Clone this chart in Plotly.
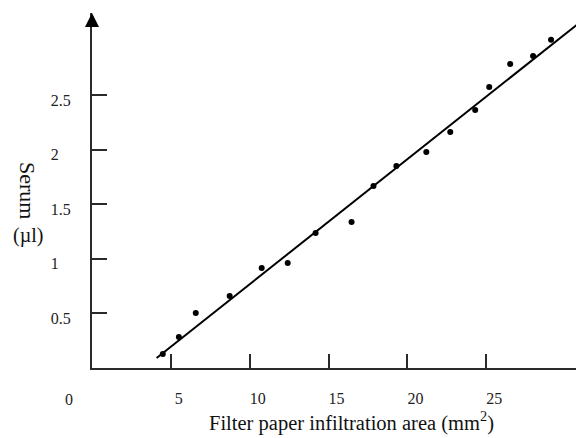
import plotly.graph_objects as go

# Data
area_mm2 = [4.49, 5.51, 6.58, 8.73, 10.76, 12.41, 14.18, 16.46, 17.85,
            19.30, 21.20, 22.72, 24.30, 25.19, 26.52, 27.97, 29.11]
serum_ul = [0.128, 0.284, 0.504, 0.659, 0.916, 0.962, 1.236, 1.337, 1.667,
            1.850, 1.978, 2.161, 2.363, 2.573, 2.784, 2.857, 3.004]

fit_slope = 0.1145
fit_intercept = -0.378
fit_x = [4.1, 31.3]
fit_y = [fit_intercept + fit_slope * v for v in fit_x]

x_tick_vals = [5, 10, 15, 20, 25]
x_tick_text = ["5", "10", "15", "20", "25"]
y_tick_vals = [0.5, 1, 1.5, 2, 2.5]
y_tick_text = ["0.5", "1\u00a0\u00a0\u00a0", "1.5", "2\u00a0\u00a0\u00a0", "2.5"]

FONT = "Liberation Serif, Times New Roman, serif"
AX = "#2a2a2a"

# the page body adds an 8 px offset; the figure is sized to compensate
fig = go.Figure()
fig.add_trace(go.Scatter(x=fit_x, y=fit_y, mode="lines",
                         line=dict(color="black", width=2), showlegend=False,
                         cliponaxis=True))
fig.add_trace(go.Scatter(x=area_mm2, y=serum_ul, mode="markers",
                         marker=dict(color="black", size=6), showlegend=False))

fig.update_layout(
    width=576, height=430,
    margin=dict(l=84, r=0, t=5, b=70),
    paper_bgcolor="white", plot_bgcolor="white",
    font=dict(family=FONT, size=16, color="#222"),
    xaxis=dict(range=[0, 31.2], showgrid=False, zeroline=False, automargin=False,
               showline=True, linecolor=AX, linewidth=2,
               ticks="inside", ticklen=14, tickwidth=1.5, tickcolor=AX,
               tickvals=x_tick_vals, ticktext=x_tick_text,
               ticklabelstandoff=15, ticklabelshift=8,
               tickfont=dict(family=FONT, size=16, color="#222")),
    yaxis=dict(range=[0, 3.25], showgrid=False, zeroline=False, automargin=False,
               showline=True, linecolor=AX, linewidth=2,
               ticks="inside", ticklen=15, tickwidth=1.5, tickcolor=AX,
               tickvals=y_tick_vals, ticktext=y_tick_text,
               ticklabelstandoff=16, ticklabelshift=5,
               tickfont=dict(family=FONT, size=16, color="#222")),
)

# arrow head on the y axis
fig.add_annotation(x=0, y=3.25, xref="x", yref="y", ax=0, ay=14,
                   showarrow=True, arrowhead=2, arrowsize=1.4, arrowwidth=2,
                   arrowcolor="black", text="")
# origin label
fig.add_annotation(x=0, y=0, xref="paper", yref="paper", text="0",
                   xanchor="center", yanchor="middle",
                   showarrow=False, xshift=-23, yshift=-31,
                   font=dict(family=FONT, size=16, color="#222"))
# axis titles
fig.add_annotation(x=(351 - 92) / 492, y=-(421 - 368) / 355, xref="paper", yref="paper",
                   xanchor="center", yanchor="middle",
                   text="Filter paper infiltration area (mm<sup>2</sup>)",
                   showarrow=False, font=dict(family=FONT, size=20.5, color="#111"))
fig.add_annotation(x=-(92 - 28) / 492, y=(368 - 190) / 355, xref="paper", yref="paper",
                   xanchor="center", yanchor="middle",
                   text="Serum", textangle=90, showarrow=False,
                   font=dict(family=FONT, size=22, color="#111"))
fig.add_annotation(x=-(92 - 28) / 492, y=(368 - 235) / 355, xref="paper", yref="paper",
                   xanchor="center", yanchor="middle",
                   text="(\u00b5l)", showarrow=False,
                   font=dict(family=FONT, size=20, color="#111"))

fig.write_html("out.html")
